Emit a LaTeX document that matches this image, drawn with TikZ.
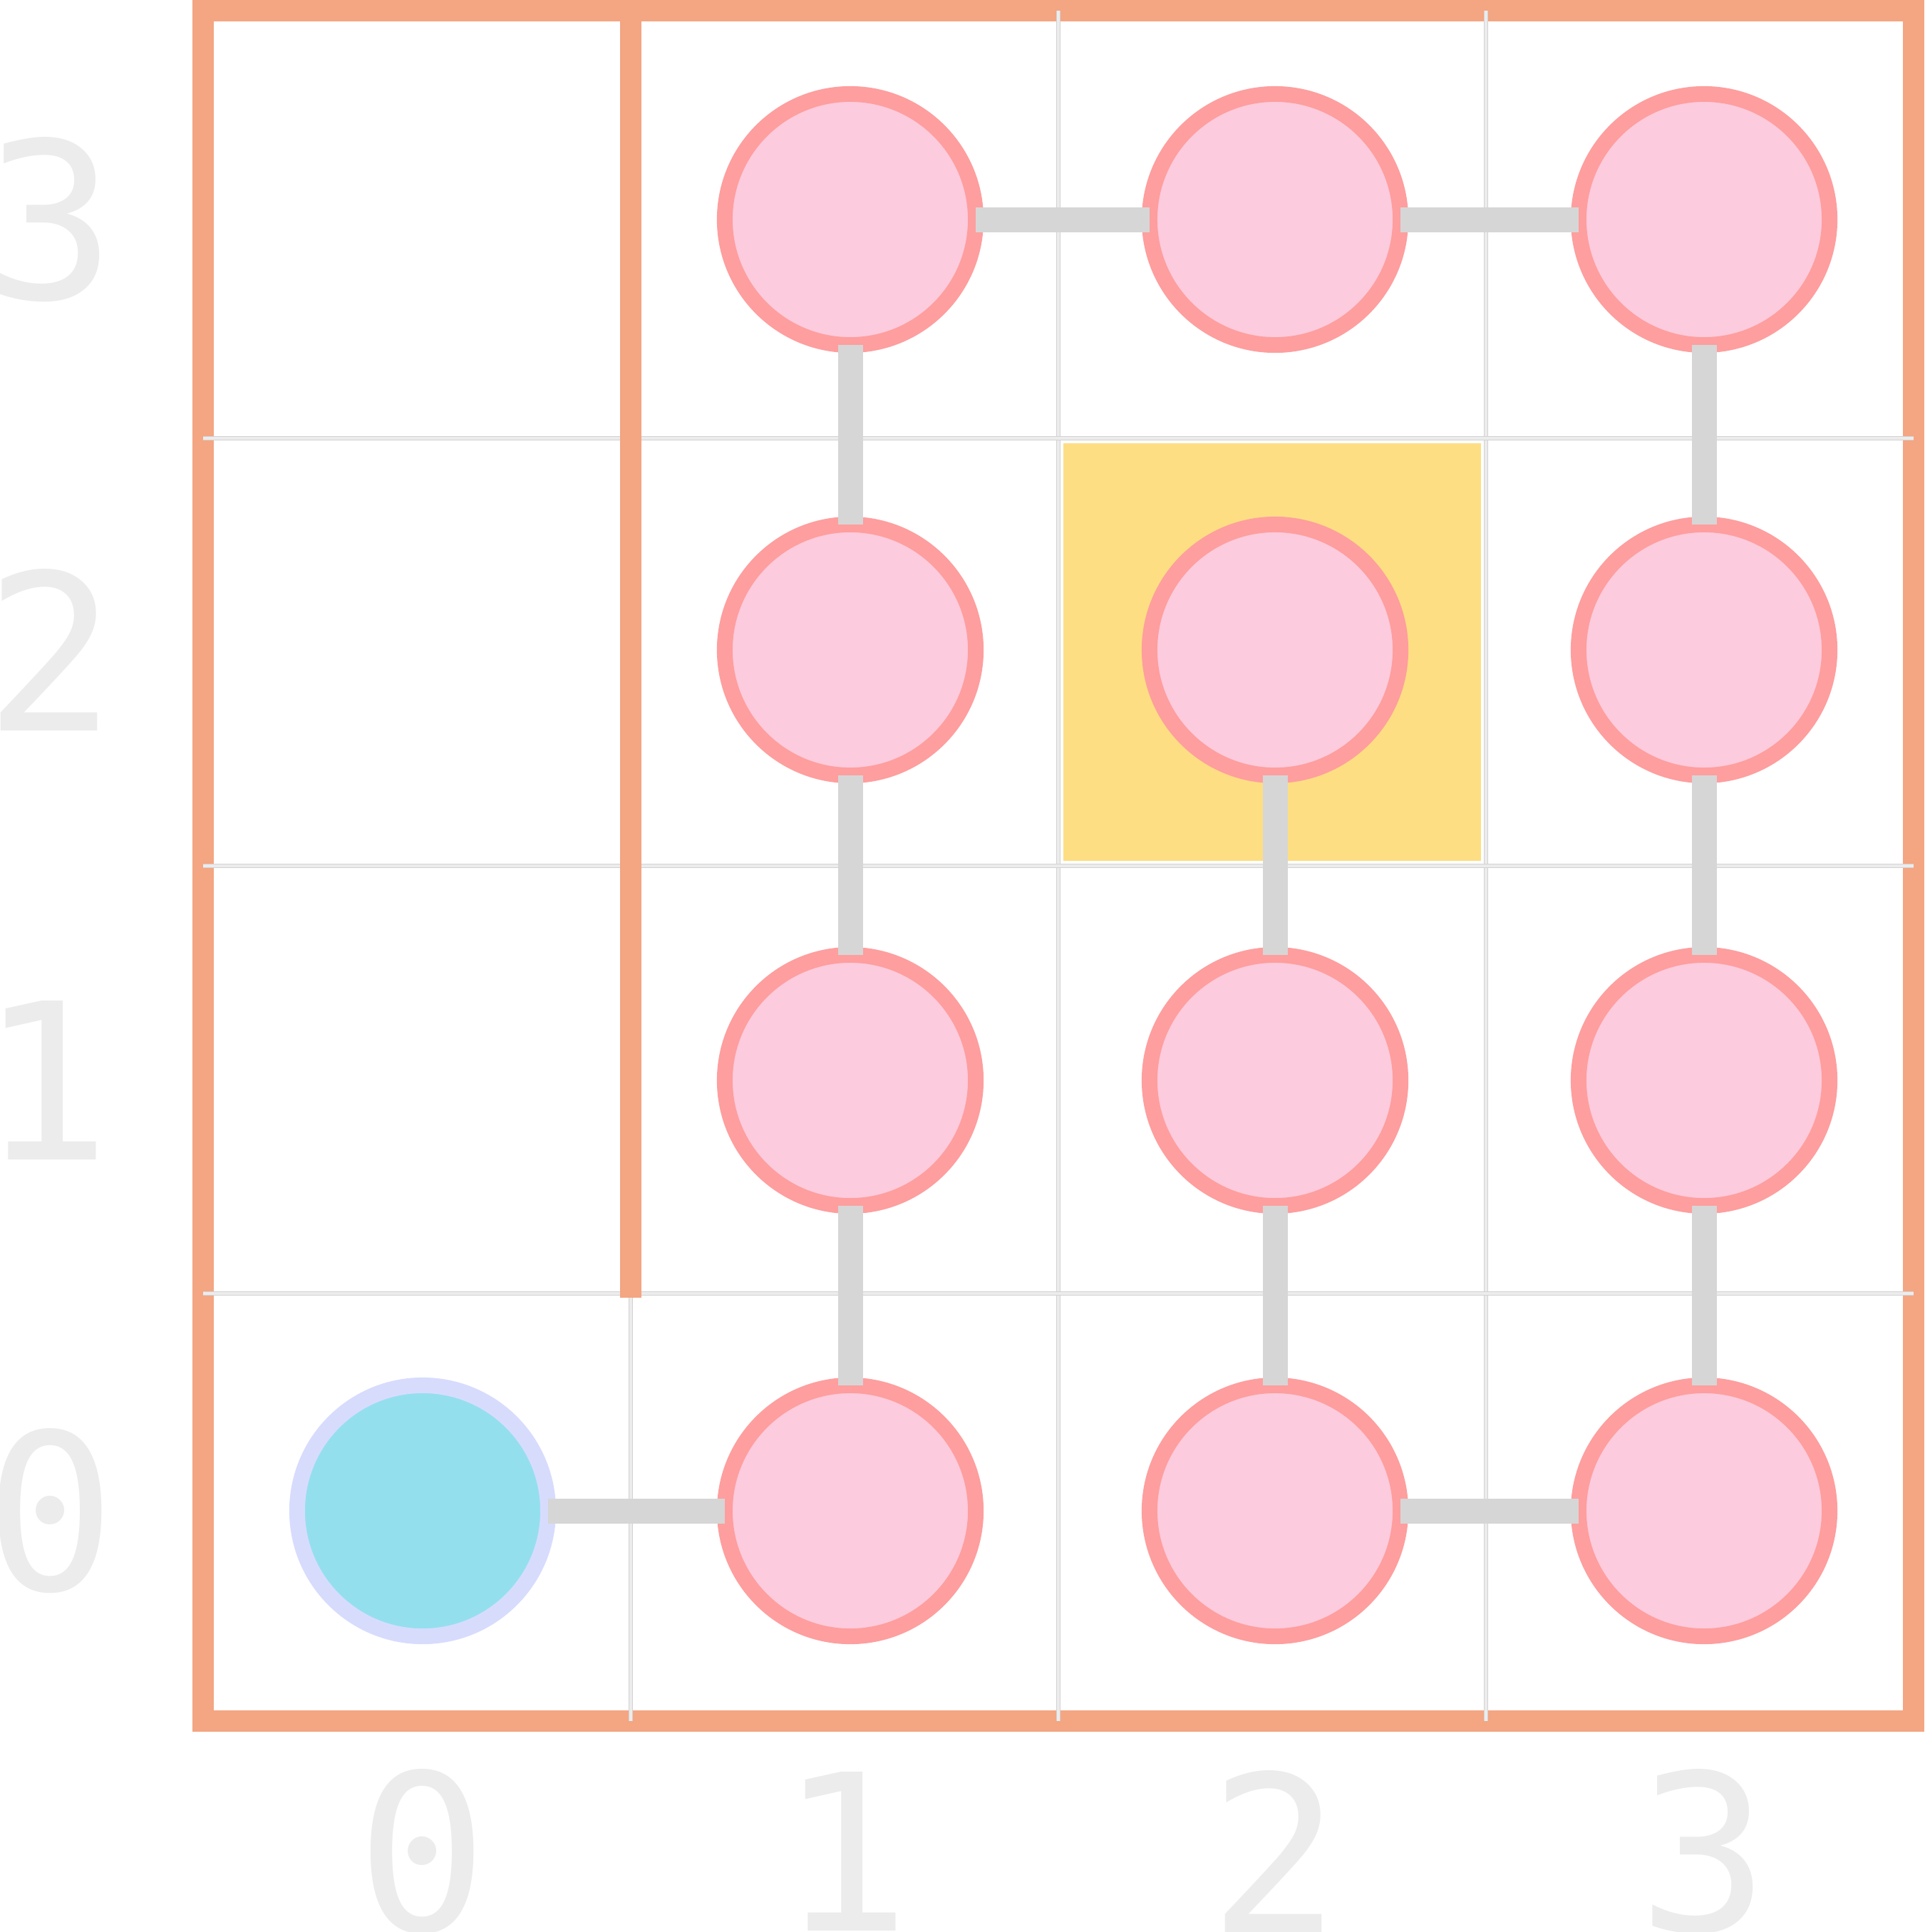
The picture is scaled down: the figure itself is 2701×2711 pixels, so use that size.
\documentclass[tikz,border=0pt]{standalone}
\usepackage{fontspec}
\newfontfamily\labfont{DejaVu Sans Mono}
\definecolor{wallc}{HTML}{F4A582}
\definecolor{gridedge}{HTML}{D2D2D2}
\definecolor{gridin}{HTML}{ECECEC}
\definecolor{hilite}{HTML}{FEDE83}
\definecolor{pinkfill}{HTML}{FCCBDD}
\definecolor{pinkdraw}{HTML}{FE9E9E}
\definecolor{tealfill}{HTML}{94DFEE}
\definecolor{tealdraw}{HTML}{D7DCFD}
\definecolor{linkc}{HTML}{D6D6D6}
\definecolor{labc}{HTML}{ECECEC}
\tikzset{
  cell/.style={circle, minimum size=3.52cm, inner sep=0pt, outer sep=0pt, line width=0.22cm},
  pinkcell/.style={cell, fill=pinkfill, draw=pinkdraw},
  startcell/.style={cell, fill=tealfill, draw=tealdraw},
  link/.style={draw=linkc, line width=0.35cm, line cap=butt},
  wallline/.style={draw=wallc, line width=0.3cm, line cap=butt},
  gridouter/.style={draw=gridedge, line width=0.065cm},
  gridinner/.style={draw=gridin, line width=0.035cm},
  lab/.style={text=labc, inner sep=0pt, outer sep=0pt, font=\labfont\fontsize{87pt}{90pt}\selectfont}
}
\begin{document}
\begin{tikzpicture}[x=0.01cm, y=-0.01cm]
\useasboundingbox (0,0) rectangle (2701,2711);
% outer border
\draw[wallline, line join=miter] (285,15) rectangle (2685,2415);
% grid lines
\foreach \v in {885,1485,2085}{
  \draw[gridouter] (\v,15) -- (\v,2415);
  \draw[gridinner] (\v,15) -- (\v,2415);
}
\foreach \h in {615,1215,1815}{
  \draw[gridouter] (285,\h) -- (2685,\h);
  \draw[gridinner] (285,\h) -- (2685,\h);
}
% inner wall
\draw[wallline] (885,15) -- (885,1821);
% highlighted cell
\fill[hilite] (1492,622) rectangle (2078,1208);
% cells
\node[startcell] (c00) at (593,2120) {};
\node[pinkcell] (c10) at (1193,2120) {};
\node[pinkcell] (c20) at (1789,2120) {};
\node[pinkcell] (c30) at (2391,2120) {};
\node[pinkcell] (c11) at (1193,1516) {};
\node[pinkcell] (c21) at (1789,1516) {};
\node[pinkcell] (c31) at (2391,1516) {};
\node[pinkcell] (c12) at (1193,912) {};
\node[pinkcell] (c22) at (1789,912) {};
\node[pinkcell] (c32) at (2391,912) {};
\node[pinkcell] (c13) at (1193,308) {};
\node[pinkcell] (c23) at (1789,308) {};
\node[pinkcell] (c33) at (2391,308) {};
% links
\draw[link] (c13) -- (c23);
\draw[link] (c23) -- (c33);
\draw[link] (c13) -- (c12);
\draw[link] (c12) -- (c11);
\draw[link] (c11) -- (c10);
\draw[link] (c22) -- (c21);
\draw[link] (c21) -- (c20);
\draw[link] (c33) -- (c32);
\draw[link] (c32) -- (c31);
\draw[link] (c31) -- (c30);
\draw[link] (c00) -- (c10);
\draw[link] (c20) -- (c30);
% row labels
\node[lab] (r3) at (71,308) {3};
\node[lab] (r2) at (71,912) {2};
\node[lab] (r1) at (64,1516) {1};
\node[lab] (r0) at (71,2120) {0};
% column labels
\node[lab] (k0) at (593,2598) {0};
\node[lab] (k1) at (1186,2598) {1};
\node[lab] (k2) at (1789,2598) {2};
\node[lab] (k3) at (2391,2598) {3};
\end{tikzpicture}
\end{document}
